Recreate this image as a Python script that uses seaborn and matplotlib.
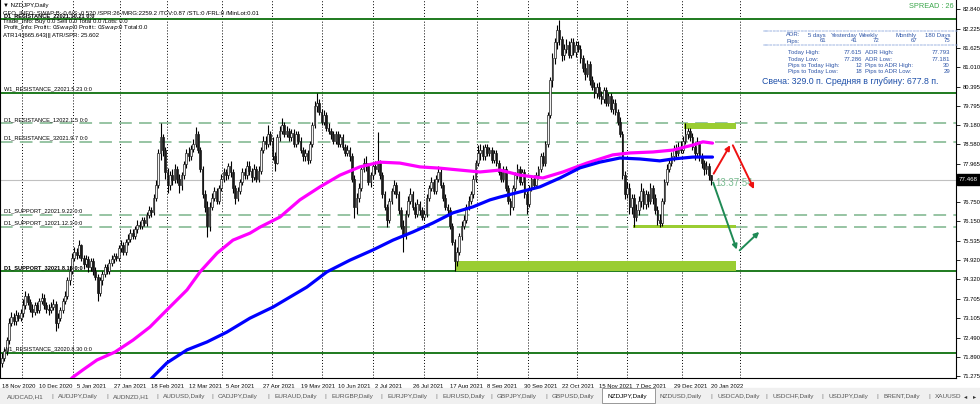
import numpy as np
import pandas as pd
import matplotlib
matplotlib.use("Agg")
import matplotlib.pyplot as plt
from matplotlib.patches import Rectangle, FancyArrowPatch
import seaborn as sns

# ---------------- data ----------------
opens = [
71.70,71.85,72.05,72.40,72.95,73.15,73.00,73.20,73.10,73.25,
73.50,73.80,73.60,73.40,73.30,73.50,73.35,73.65,73.75,73.50,
73.40,73.35,73.45,73.55,72.95,73.10,73.35,73.65,73.80,74.30,
74.60,75.00,75.20,75.10,75.40,75.00,74.80,74.95,74.70,74.90,
74.60,74.40,73.90,74.30,74.50,74.70,74.60,74.85,74.95,75.05,
75.00,75.30,75.40,75.20,75.50,75.60,75.80,75.70,75.90,76.05,
76.00,76.20,76.10,76.35,76.50,76.45,76.90,77.30,78.30,78.80,
78.40,77.70,77.30,77.60,77.45,77.80,77.50,77.30,77.60,77.95,
78.30,78.20,78.45,78.60,78.90,78.40,77.80,77.00,76.60,76.00,
76.60,76.90,77.10,76.80,77.20,77.50,77.70,77.60,77.90,77.70,
77.20,76.90,77.10,77.40,77.70,77.60,77.90,77.75,77.55,77.80,
77.50,77.75,78.40,78.70,78.60,78.90,78.70,78.20,78.00,78.80,
79.00,79.20,78.90,79.00,78.80,78.95,78.60,78.90,78.70,78.40,
78.20,78.30,78.10,78.60,79.20,79.80,79.90,79.60,79.30,79.50,
79.10,79.00,78.90,78.70,78.90,78.60,78.80,78.50,78.30,78.40,
78.20,77.50,76.60,76.90,77.20,77.80,78.00,77.90,77.40,77.60,
77.90,77.80,78.00,77.60,77.00,76.60,76.20,76.80,77.10,77.30,
77.00,76.50,76.00,75.70,76.40,76.80,77.00,76.60,76.40,76.70,
76.50,76.30,76.40,76.90,77.20,77.40,77.10,77.50,77.70,77.30,
76.90,76.60,76.50,76.00,75.50,74.90,75.20,75.70,76.00,76.20,
76.60,76.80,77.00,77.50,78.00,78.30,78.40,78.20,78.50,78.30,
78.40,78.10,78.30,78.00,77.70,77.50,77.80,77.20,76.80,76.60,
77.20,77.60,77.80,77.40,77.70,77.00,76.70,77.20,77.50,77.30,
77.60,77.80,78.20,78.00,78.60,79.50,80.60,81.30,81.80,82.20,
81.90,81.40,81.60,81.70,81.40,81.80,81.50,81.70,81.60,81.30,
81.00,80.80,81.10,80.60,80.40,80.20,80.40,80.10,80.00,80.30,
79.90,80.10,79.70,79.90,79.60,79.30,78.90,77.60,77.00,77.20,
76.60,76.90,76.30,76.50,76.80,77.10,76.70,77.00,76.80,77.20,
76.90,76.50,76.20,76.10,76.80,77.40,77.80,78.00,78.20,78.40,
78.30,78.50,78.40,78.70,78.90,79.00,78.80,78.50,78.30,78.60,
78.20,78.00,77.80,77.90,77.60]
closes = [
71.85,72.05,72.40,72.95,73.15,73.00,73.20,73.10,73.25,73.50,
73.80,73.60,73.40,73.30,73.50,73.35,73.65,73.75,73.50,73.40,
73.35,73.45,73.55,72.95,73.10,73.35,73.65,73.80,74.30,74.60,
75.00,75.20,75.10,75.40,75.00,74.80,74.95,74.70,74.90,74.60,
74.40,73.90,74.30,74.50,74.70,74.60,74.85,74.95,75.05,75.00,
75.30,75.40,75.20,75.50,75.60,75.80,75.70,75.90,76.05,76.00,
76.20,76.10,76.35,76.50,76.45,76.90,77.30,78.30,78.80,78.40,
77.70,77.30,77.60,77.45,77.80,77.50,77.30,77.60,77.95,78.30,
78.20,78.45,78.60,78.90,78.40,77.80,77.00,76.60,76.00,76.60,
76.90,77.10,76.80,77.20,77.50,77.70,77.60,77.90,77.70,77.20,
76.90,77.10,77.40,77.70,77.60,77.90,77.75,77.55,77.80,77.50,
77.75,78.40,78.70,78.60,78.90,78.70,78.20,78.00,78.80,79.00,
79.20,78.90,79.00,78.80,78.95,78.60,78.90,78.70,78.40,78.20,
78.30,78.10,78.60,79.20,79.80,79.90,79.60,79.30,79.50,79.10,
79.00,78.90,78.70,78.90,78.60,78.80,78.50,78.30,78.40,78.20,
77.50,76.60,76.90,77.20,77.80,78.00,77.90,77.40,77.60,77.90,
77.80,78.00,77.60,77.00,76.60,76.20,76.80,77.10,77.30,77.00,
76.50,76.00,75.70,76.40,76.80,77.00,76.60,76.40,76.70,76.50,
76.30,76.40,76.90,77.20,77.40,77.10,77.50,77.70,77.30,76.90,
76.60,76.50,76.00,75.50,74.90,75.20,75.70,76.00,76.20,76.60,
76.80,77.00,77.50,78.00,78.30,78.40,78.20,78.50,78.30,78.40,
78.10,78.30,78.00,77.70,77.50,77.80,77.20,76.80,76.60,77.20,
77.60,77.80,77.40,77.70,77.00,76.70,77.20,77.50,77.30,77.60,
77.80,78.20,78.00,78.60,79.50,80.60,81.30,81.80,82.20,81.90,
81.40,81.60,81.70,81.40,81.80,81.50,81.70,81.60,81.30,81.00,
80.80,81.10,80.60,80.40,80.20,80.40,80.10,80.00,80.30,79.90,
80.10,79.70,79.90,79.60,79.30,78.90,77.60,77.00,77.20,76.60,
76.90,76.30,76.50,76.80,77.10,76.70,77.00,76.80,77.20,76.90,
76.50,76.20,76.10,76.80,77.40,77.80,78.00,78.20,78.40,78.30,
78.50,78.40,78.70,78.90,79.00,78.80,78.50,78.30,78.60,78.20,
78.00,77.80,77.90,77.60,77.47]
highs = [
72.00,72.15,72.50,73.10,73.30,73.25,73.35,73.30,73.40,73.70,
73.95,73.90,73.70,73.55,73.60,73.60,73.75,73.90,73.85,73.60,
73.55,73.60,73.70,73.65,73.25,73.45,73.75,73.95,74.40,74.75,
75.15,75.35,75.30,75.56,75.45,75.10,75.10,75.05,75.00,75.00,
74.70,74.50,74.40,74.60,74.80,74.80,74.95,75.10,75.15,75.15,
75.40,75.55,75.50,75.60,75.75,75.90,75.90,76.00,76.20,76.15,
76.30,76.30,76.45,76.65,76.60,77.00,77.45,78.45,79.24,78.90,
78.50,77.85,77.75,77.80,77.95,77.90,77.65,77.70,78.05,78.45,
78.50,78.55,78.75,79.13,79.00,78.50,77.90,77.15,76.80,76.75,
77.05,77.25,77.20,77.30,77.65,77.85,77.80,78.00,78.05,77.80,
77.30,77.25,77.50,77.85,77.85,78.05,78.05,77.85,77.95,77.90,
77.90,78.50,78.85,78.85,79.20,79.00,78.80,78.35,78.90,79.15,
79.40,79.30,79.15,79.10,79.05,79.05,79.00,79.00,78.80,78.50,
78.45,78.40,78.70,79.30,79.95,80.20,80.00,79.70,79.65,79.60,
79.25,79.10,79.00,79.00,79.00,78.90,78.90,78.60,78.55,78.50,
78.30,77.60,77.05,77.35,77.90,78.15,78.20,78.00,77.70,78.00,
78.05,78.96,78.10,77.70,77.10,76.70,76.90,77.20,77.45,77.40,
77.10,76.60,76.20,76.50,76.95,77.20,77.10,76.75,76.85,76.80,
76.60,76.50,77.00,77.30,77.55,77.50,77.60,77.90,77.80,77.40,
77.00,76.70,76.60,76.10,75.60,75.35,75.80,76.15,76.35,76.70,
76.95,77.10,77.60,78.10,78.55,78.60,78.55,78.60,78.60,78.50,
78.50,78.40,78.40,78.10,77.80,77.90,77.90,77.30,76.90,77.30,
77.70,77.95,77.90,77.80,77.80,77.10,77.30,77.60,77.60,77.70,
77.90,78.30,78.35,78.70,79.60,80.70,81.45,81.95,82.35,82.50,
82.00,81.75,81.90,81.85,81.95,81.95,81.85,81.85,81.70,81.40,
81.15,81.25,81.20,80.75,80.55,80.50,80.55,80.25,80.40,80.40,
80.20,80.20,80.00,80.00,79.70,79.45,79.00,77.75,77.40,77.35,
77.00,77.00,76.70,76.95,77.35,77.20,77.15,77.10,77.35,77.30,
77.00,76.65,76.40,76.90,77.50,77.95,78.15,78.35,78.55,78.60,
78.65,78.70,78.85,79.26,79.10,79.10,78.95,78.65,78.80,78.70,
78.30,78.10,78.05,78.00,77.62]
lows = [
71.55,71.75,71.95,72.30,72.85,72.90,72.90,73.00,73.00,73.15,
73.40,73.50,73.30,73.15,73.20,73.25,73.25,73.55,73.40,73.25,
73.20,73.25,73.35,72.70,72.80,73.00,73.25,73.55,73.70,74.15,
74.50,74.90,74.95,75.00,74.90,74.65,74.70,74.55,74.60,74.45,
74.30,73.65,73.80,74.15,74.40,74.50,74.50,74.75,74.85,74.90,
74.90,75.20,75.10,75.10,75.40,75.50,75.60,75.60,75.80,75.90,
75.90,76.00,76.00,76.25,76.30,76.35,76.80,77.20,78.10,78.20,
77.50,77.05,77.15,77.30,77.35,77.35,77.05,77.15,77.50,77.85,
78.05,78.10,78.35,78.50,78.30,77.70,76.90,76.45,75.66,75.85,
76.50,76.80,76.70,76.70,77.10,77.40,77.45,77.50,77.55,77.05,
76.70,76.80,77.00,77.30,77.50,77.50,77.60,77.40,77.45,77.40,
77.40,77.65,78.30,78.45,78.50,78.55,78.10,77.75,77.95,78.70,
78.90,78.80,78.80,78.70,78.70,78.50,78.50,78.60,78.30,78.05,
78.05,77.95,78.00,78.50,79.10,79.60,79.50,79.20,79.20,79.00,
78.90,78.75,78.60,78.60,78.50,78.50,78.40,78.20,78.20,78.05,
77.40,76.26,76.40,76.75,77.10,77.70,77.75,77.30,77.25,77.50,
77.65,77.70,77.50,76.90,76.50,75.98,76.10,76.70,77.00,76.90,
76.40,75.90,75.20,75.60,76.30,76.70,76.50,76.25,76.30,76.35,
76.20,76.20,76.30,76.80,77.10,77.00,77.00,77.40,77.20,76.80,
76.50,76.40,75.90,75.40,74.58,74.75,75.10,75.55,75.90,76.10,
76.50,76.70,76.90,77.40,77.90,78.10,78.10,78.10,78.20,78.20,
78.00,78.00,77.90,77.60,77.40,77.40,77.10,76.70,76.35,76.50,
77.10,77.50,77.30,77.30,76.90,76.40,76.60,77.10,77.20,77.20,
77.50,77.70,77.90,77.90,78.50,79.40,80.40,81.10,81.60,81.70,
81.20,81.25,81.45,81.30,81.30,81.40,81.35,81.50,81.15,80.85,
80.60,80.70,80.45,80.30,80.05,80.05,80.00,79.85,79.90,79.80,
79.80,79.60,79.55,79.50,79.20,78.80,77.50,76.85,76.90,76.40,
76.40,75.96,76.15,76.35,76.60,76.55,76.55,76.60,76.70,76.70,
76.40,76.05,75.98,76.00,76.70,77.30,77.70,77.90,78.05,78.15,
78.20,78.30,78.30,78.60,78.75,78.70,78.40,78.10,78.20,78.05,
77.85,77.60,77.65,77.45,77.29]

# moving averages (bar index, price)
ma_fast_x = [28.3,30.4,34.7,40.7,48.4,56.2,63.4,70.7,79.3,84.9,92.2,99.0,106.3,110.6,119.2,127.7,136.3,
             144.9,153.4,162.0,170.6,179.2,187.7,196.3,204.9,213.5,222.0,231.9,240.5,250.7,261.9,269.2,
             279.0,287.6,296.2,300.5,304.6]
ma_fast_y = [71.09,71.24,71.47,71.78,72.03,72.41,72.82,73.36,73.99,74.56,75.15,75.56,75.78,75.97,76.29,
             76.83,77.24,77.61,77.87,78.02,77.99,77.87,77.83,77.77,77.71,77.77,77.61,77.52,77.71,77.99,
             78.25,78.31,78.34,78.40,78.56,78.66,78.62]
ma_slow_x = [63.4,70.7,79.3,87.9,96.4,106.3,116.2,130.7,139.3,149.2,159.0,167.6,176.2,184.7,193.3,201.9,
             209.2,213.5,222.0,230.6,239.2,247.8,256.3,264.9,273.5,282.0,287.6,296.2,304.6]
ma_slow_y = [71.15,71.69,72.10,72.35,72.66,73.10,73.45,74.08,74.56,74.93,75.25,75.56,75.82,76.10,76.42,
             76.61,76.83,76.92,77.08,77.24,77.52,77.84,78.02,78.15,78.12,78.06,78.12,78.18,78.18]

date_labels = ['18 Nov 2020', '10 Dec 2020', '5 Jan 2021', '27 Jan 2021', '18 Feb 2021', '12 Mar 2021',
               '5 Apr 2021', '27 Apr 2021', '19 May 2021', '10 Jun 2021', '2 Jul 2021', '26 Jul 2021',
               '17 Aug 2021', '8 Sep 2021', '30 Sep 2021', '22 Oct 2021', '15 Nov 2021', '7 Dec 2021',
               '29 Dec 2021', '20 Jan 2022']
price_ticks = [82.840, 82.225, 81.625, 81.010, 80.395, 79.795, 79.180, 78.580, 77.965,
               76.750, 76.150, 75.535, 74.920, 74.320, 73.705, 73.105, 72.490, 71.890, 71.275]

level_names = ['D1_RESISTANCE_22021.10.21 0:0', 'W1_RESISTANCE_22021.5.23 0:0', 'D1_RESISTANCE_12022.1.5 0:0',
               'D1_RESISTANCE_32021.9.7 0:0', 'D1_SUPPORT_22021.9.22 0:0', 'D1_SUPPORT_12021.12.3 0:0',
               'D1_SUPPORT_32021.8.15 0:0', 'W1_RESISTANCE_32020.8.30 0:0']
level_prices = [82.525, 80.216, 79.245, 78.664, 76.353, 75.984, 74.577, 72.010]
level_solid = [True, True, False, False, False, False, True, True]

bid_price = 77.468
tabs = ['AUDCAD,H1', 'AUDJPY,Daily', 'AUDNZD,H1', 'AUDUSD,Daily', 'CADJPY,Daily', 'EURAUD,Daily',
        'EURGBP,Daily', 'EURJPY,Daily', 'EURUSD,Daily', 'GBPJPY,Daily', 'GBPUSD,Daily', 'NZDJPY,Daily',
        'NZDUSD,Daily', 'USDCAD,Daily', 'USDCHF,Daily', 'USDJPY,Daily', 'BRENT,Daily', 'XAUUSD']

# ---------------- style ----------------
sns.set_style('white')
plt.rcParams['font.family'] = ['Liberation Sans', 'DejaVu Sans']

W, H = 980, 404
fig = plt.figure(figsize=(W / 100, H / 100), dpi=100)
fig.patch.set_facecolor('white')
ax = fig.add_axes([0, 26 / H, 956 / W, 378 / H])
ax.set_facecolor('white')

n = len(closes)
idx = np.arange(n)
df = pd.DataFrame({'i': idx, 'o': opens, 'h': highs, 'l': lows, 'c': closes})

X0, X1 = -0.86, 409.0
Y0, Y1 = 71.213, 83.133
ax.set_xlim(X0, X1)
ax.set_ylim(Y0, Y1)

def px2fig(x, y):
    return x / W, 1 - y / H

# vertical dotted grid
for gx in [8.6, 30.4, 50.6, 70.7, 94.3, 115.7, 137.1, 159.0, 180.9, 203.6, 225.5, 246.5, 267.9, 291.5, 316.3]:
    ax.axvline(gx, color='black', lw=0.7, ls=(0, (1, 2)), zorder=0)

# bid line
ax.axhline(bid_price, color='#c0c0c0', lw=0.8, zorder=1)

# level lines
for name, p, solid in zip(level_names, level_prices, level_solid):
    if solid:
        ax.axhline(p, color='#1e7a1e', lw=1.4, zorder=2)
    else:
        ax.axhline(p, color='#8fbf9c', lw=1.3, ls=(0, (7, 4)), zorder=2)
    bold = name.startswith('D1_RESISTANCE_2') or name.startswith('D1_SUPPORT_3')
    ax.text(1.0, p + 0.04, name, fontsize=4.1, color='black', ha='left', va='bottom',
            fontweight='bold' if bold else 'normal', zorder=6)

# green zones
ax.add_patch(Rectangle((194.6, 74.58), 314.6 - 194.6, 74.90 - 74.58, color='#9acd32', zorder=3, lw=0))
ax.add_patch(Rectangle((270.5, 75.95), 314.6 - 270.5, 76.03 - 75.95, color='#9acd32', zorder=3, lw=0))
ax.add_patch(Rectangle((292.3, 79.055), 314.6 - 292.3, 79.26 - 79.055, color='#9acd32', zorder=3, lw=0))

# candles
ax.vlines(df['i'], df['l'], df['h'], color='black', lw=0.8, zorder=4)
up = df['c'] >= df['o']
body_lo = np.minimum(df['o'], df['c'])
body_h = np.maximum(np.abs(df['c'] - df['o']), 0.02)
ax.bar(df['i'][up], body_h[up], bottom=body_lo[up], width=0.75, color='#f2f2f2',
       edgecolor='#202020', linewidth=0.5, zorder=5)
ax.bar(df['i'][~up], body_h[~up], bottom=body_lo[~up], width=0.75, color='#1a1a1a',
       edgecolor='#1a1a1a', linewidth=0.5, zorder=5)

# moving averages
sns.lineplot(x=ma_fast_x, y=ma_fast_y, ax=ax, color='#ff00ff', lw=2.3, zorder=6)
sns.lineplot(x=ma_slow_x, y=ma_slow_y, ax=ax, color='#0000ff', lw=2.3, zorder=6)

# arrows
def arrow(p0, p1, col):
    ax.add_patch(FancyArrowPatch(p0, p1, arrowstyle='-|>', mutation_scale=7, color=col, lw=1.4, zorder=7))

arrow((304.5, 77.58), (312.8, 78.63), '#ee1111')
arrow((312.8, 78.63), (322.9, 77.09), '#ee1111')
arrow((304.5, 77.46), (315.4, 75.18), '#1f8a55')
arrow((315.4, 75.18), (325.5, 75.88), '#1f8a55')
ax.text(306.0, 77.36, '13:37:54', fontsize=7, color='#77bb8f', ha='left', va='center', zorder=6)

# axes styling
ax.spines['top'].set_visible(False)
for s in ['left', 'right', 'bottom']:
    ax.spines[s].set_color('black')
    ax.spines[s].set_linewidth(0.8)
ax.yaxis.tick_right()
ax.set_yticks(price_ticks)
ax.set_yticklabels([f'{v:.3f}' for v in price_ticks])
ax.set_xticks(np.arange(len(date_labels)) * 16)
ax.set_xticklabels(date_labels)
ax.tick_params(axis='both', direction='out', length=3, width=0.6, labelsize=4.2, colors='black', pad=1.5)
for lab in ax.get_xticklabels():
    lab.set_ha('left')
ax.set_xlabel('')
ax.set_ylabel('')
ax.grid(False)

# current price box on the axis
fx, fy = px2fig(957, 185)
fig.patches.append(Rectangle((fx, fy), 23 / W, 11 / H, transform=fig.transFigure, color='black', zorder=5))
fig.text(*px2fig(959, 179.5), '77.468', fontsize=4.4, color='white', ha='left', va='center', zorder=6)

# top-left info
fig.text(*px2fig(3, 6), '▼ NZDJPY,Daily', fontsize=4.3, color='black', va='center')
fig.text(*px2fig(3, 12.5), 'GFO_INFO: SWAP:B:-0.6/S:-0.520 /SPR:26 /MRG:2259.2 /TCV:0.87 /STL:0 /FRL:0 /MinLot:0.01',
         fontsize=4.3, color='black', va='center')
fig.text(*px2fig(3, 21), 'Trade_Info: Buy 0.0 Sell 0.0 Total 0.0 /Lots: 0.0', fontsize=4.3, color='black', va='center')
fig.text(*px2fig(3, 28), 'Profit_Info: Profit$:0 Swap$:0 Profit$:0 Swap$:0 Total:0.0', fontsize=4.3, color='black', va='center')
fig.text(*px2fig(3, 35), 'ATR14:[665.643||| ATR/SPR: 25.602', fontsize=4.3, color='black', va='center')

# spread
fig.text(*px2fig(954, 7), 'SPREAD : 26', fontsize=5.3, color='#3aa64a', ha='right', va='center')

# info panel
pc = '#2f56a8'
sep = '=' * 56
fig.text(*px2fig(763, 31.5), sep, fontsize=4.3, color='#8aa6dc', va='center')
fig.text(*px2fig(763, 45.5), sep, fontsize=4.3, color='#8aa6dc', va='center')
fig.text(*px2fig(800, 35), 'ADR:', fontsize=4.3, color=pc, ha='right', va='center')
fig.text(*px2fig(800, 41), 'Pips:', fontsize=4.3, color=pc, ha='right', va='center')
for xs, hdr, val in [(826, '5 days', '61'), (858, 'Yesterday', '41'), (879, 'Weekly', '72'),
                     (917, 'Monthly', '67'), (950, '180 Days', '75')]:
    fig.text(*px2fig(xs, 35), hdr, fontsize=4.3, color=pc, ha='right', va='center')
    fig.text(*px2fig(xs, 41), val, fontsize=4.3, color=pc, ha='right', va='center')
rows = [('Today High:', '77.615', 'ADR High:', '77.793'),
        ('Today Low:', '77.286', 'ADR Low:', '77.181'),
        ('Pips to Today High:', '12', 'Pips to ADR High:', '30'),
        ('Pips to Today Low:', '18', 'Pips to ADR Low:', '29')]
for k, (a, b, c, d) in enumerate(rows):
    yy = 52.7 + k * 6.4
    fig.text(*px2fig(788, yy), a, fontsize=4.3, color=pc, ha='left', va='center')
    fig.text(*px2fig(862, yy), b, fontsize=4.3, color=pc, ha='right', va='center')
    fig.text(*px2fig(865, yy), c, fontsize=4.3, color=pc, ha='left', va='center')
    fig.text(*px2fig(950, yy), d, fontsize=4.3, color=pc, ha='right', va='center')
fig.text(*px2fig(762, 81), 'Свеча: 329.0 п. Средняя в глубину: 677.8 п.', fontsize=6.3, color='#1d4fa8',
         ha='left', va='center')

# tab bar
fig.patches.append(Rectangle((0, 0), 1, 16 / H, transform=fig.transFigure, color='#f0f0f0', zorder=0))
tab_x = [7, 58, 113, 163, 218, 274, 331, 387, 442, 497, 552, 607, 660, 717, 772, 828, 883, 935]
for k, (t, tx) in enumerate(zip(tabs, tab_x)):
    if t == 'NZDJPY,Daily':
        fig.patches.append(Rectangle(px2fig(602, 403), 53 / W, 15 / H, transform=fig.transFigure,
                                     facecolor='white', edgecolor='#8a8a8a', lw=0.6, zorder=1))
        fig.text(*px2fig(tx, 396.5), t, fontsize=4.6, color='black', va='center', zorder=2)
    else:
        fig.text(*px2fig(tx, 396.5), t, fontsize=4.6, color='#555555', va='center', zorder=2)
    if k < len(tabs) - 1 and t != 'GBPUSD,Daily' and t != 'NZDJPY,Daily':
        fig.text(*px2fig(tab_x[k + 1] - 6, 396.5), '|', fontsize=4.6, color='#777777', va='center', ha='center')
fig.text(*px2fig(966, 396.5), '◂', fontsize=4.6, color='#333333', va='center', ha='center')
fig.text(*px2fig(975, 396.5), '▸', fontsize=4.6, color='#333333', va='center', ha='center')

fig.savefig('out.png', dpi=100, facecolor='white')
